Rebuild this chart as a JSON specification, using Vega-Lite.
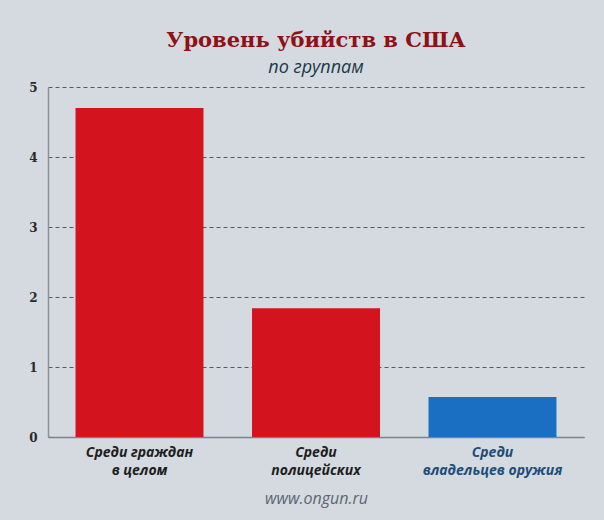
{
  "$schema": "https://vega.github.io/schema/vega-lite/v6.json",
  "autosize": "none",
  "width": 536,
  "height": 350,
  "padding": {"left": 48, "top": 87, "right": 20, "bottom": 83},
  "background": "#d4dadf",
  "title": {
    "text": "Уровень убийств в США",
    "subtitle": "по группам",
    "anchor": "middle",
    "frame": "group",
    "offset": 4,
    "font": "DejaVu Serif",
    "fontSize": 21,
    "fontWeight": "bold",
    "color": "#8e1117",
    "subtitleFont": "Open Sans",
    "subtitleFontSize": 18,
    "subtitleFontStyle": "italic",
    "subtitleColor": "#22374a",
    "subtitlePadding": 8
  },
  "data": {
    "values": [
      {"group": "Среди граждан\nв целом", "rate": 4.7},
      {"group": "Среди\nполицейских", "rate": 1.84},
      {"group": "Среди\nвладельцев оружия", "rate": 0.57}
    ]
  },
  "mark": {"type": "bar"},
  "encoding": {
    "x": {
      "field": "group",
      "type": "nominal",
      "sort": null,
      "scale": {"paddingInner": 0.275, "paddingOuter": 0.156},
      "axis": {
        "title": "www.ongun.ru",
        "titleFont": "Open Sans",
        "titleFontSize": 16,
        "titleFontStyle": "italic",
        "titleFontWeight": "normal",
        "titleColor": "#5b6672",
        "titlePadding": 13,
        "labelAngle": 0,
        "labelExpr": "split(datum.label, '\\n')",
        "labelFont": "Open Sans",
        "labelFontSize": 14,
        "labelFontWeight": "bold",
        "labelFontStyle": "italic",
        "labelLineHeight": 18,
        "labelColor": {
          "condition": {"test": "indexof(datum.value, 'оружия') >= 0", "value": "#1e4d78"},
          "value": "#1e1e1e"
        },
        "labelPadding": 8,
        "ticks": false,
        "domainColor": "#7b838b",
        "domainWidth": 1.5
      }
    },
    "y": {
      "field": "rate",
      "type": "quantitative",
      "scale": {"domain": [0, 5], "nice": false},
      "axis": {
        "title": null,
        "values": [0, 1, 2, 3, 4, 5],
        "labelFont": "DejaVu Serif",
        "labelFontWeight": "bold",
        "labelFontSize": 12,
        "labelColor": "#2a2a2a",
        "labelPadding": 11,
        "ticks": false,
        "domainColor": "#8a9299",
        "domainWidth": 1.5,
        "gridColor": "#555b61",
        "gridDash": [4, 3],
        "gridWidth": 1
      }
    },
    "color": {
      "field": "group",
      "type": "nominal",
      "scale": {
        "domain": ["Среди граждан\nв целом", "Среди\nполицейских", "Среди\nвладельцев оружия"],
        "range": ["#d3131d", "#d3131d", "#1a6fc2"]
      },
      "legend": null
    }
  },
  "config": {
    "view": {"stroke": null},
    "bar": {"opacity": 1}
  }
}
